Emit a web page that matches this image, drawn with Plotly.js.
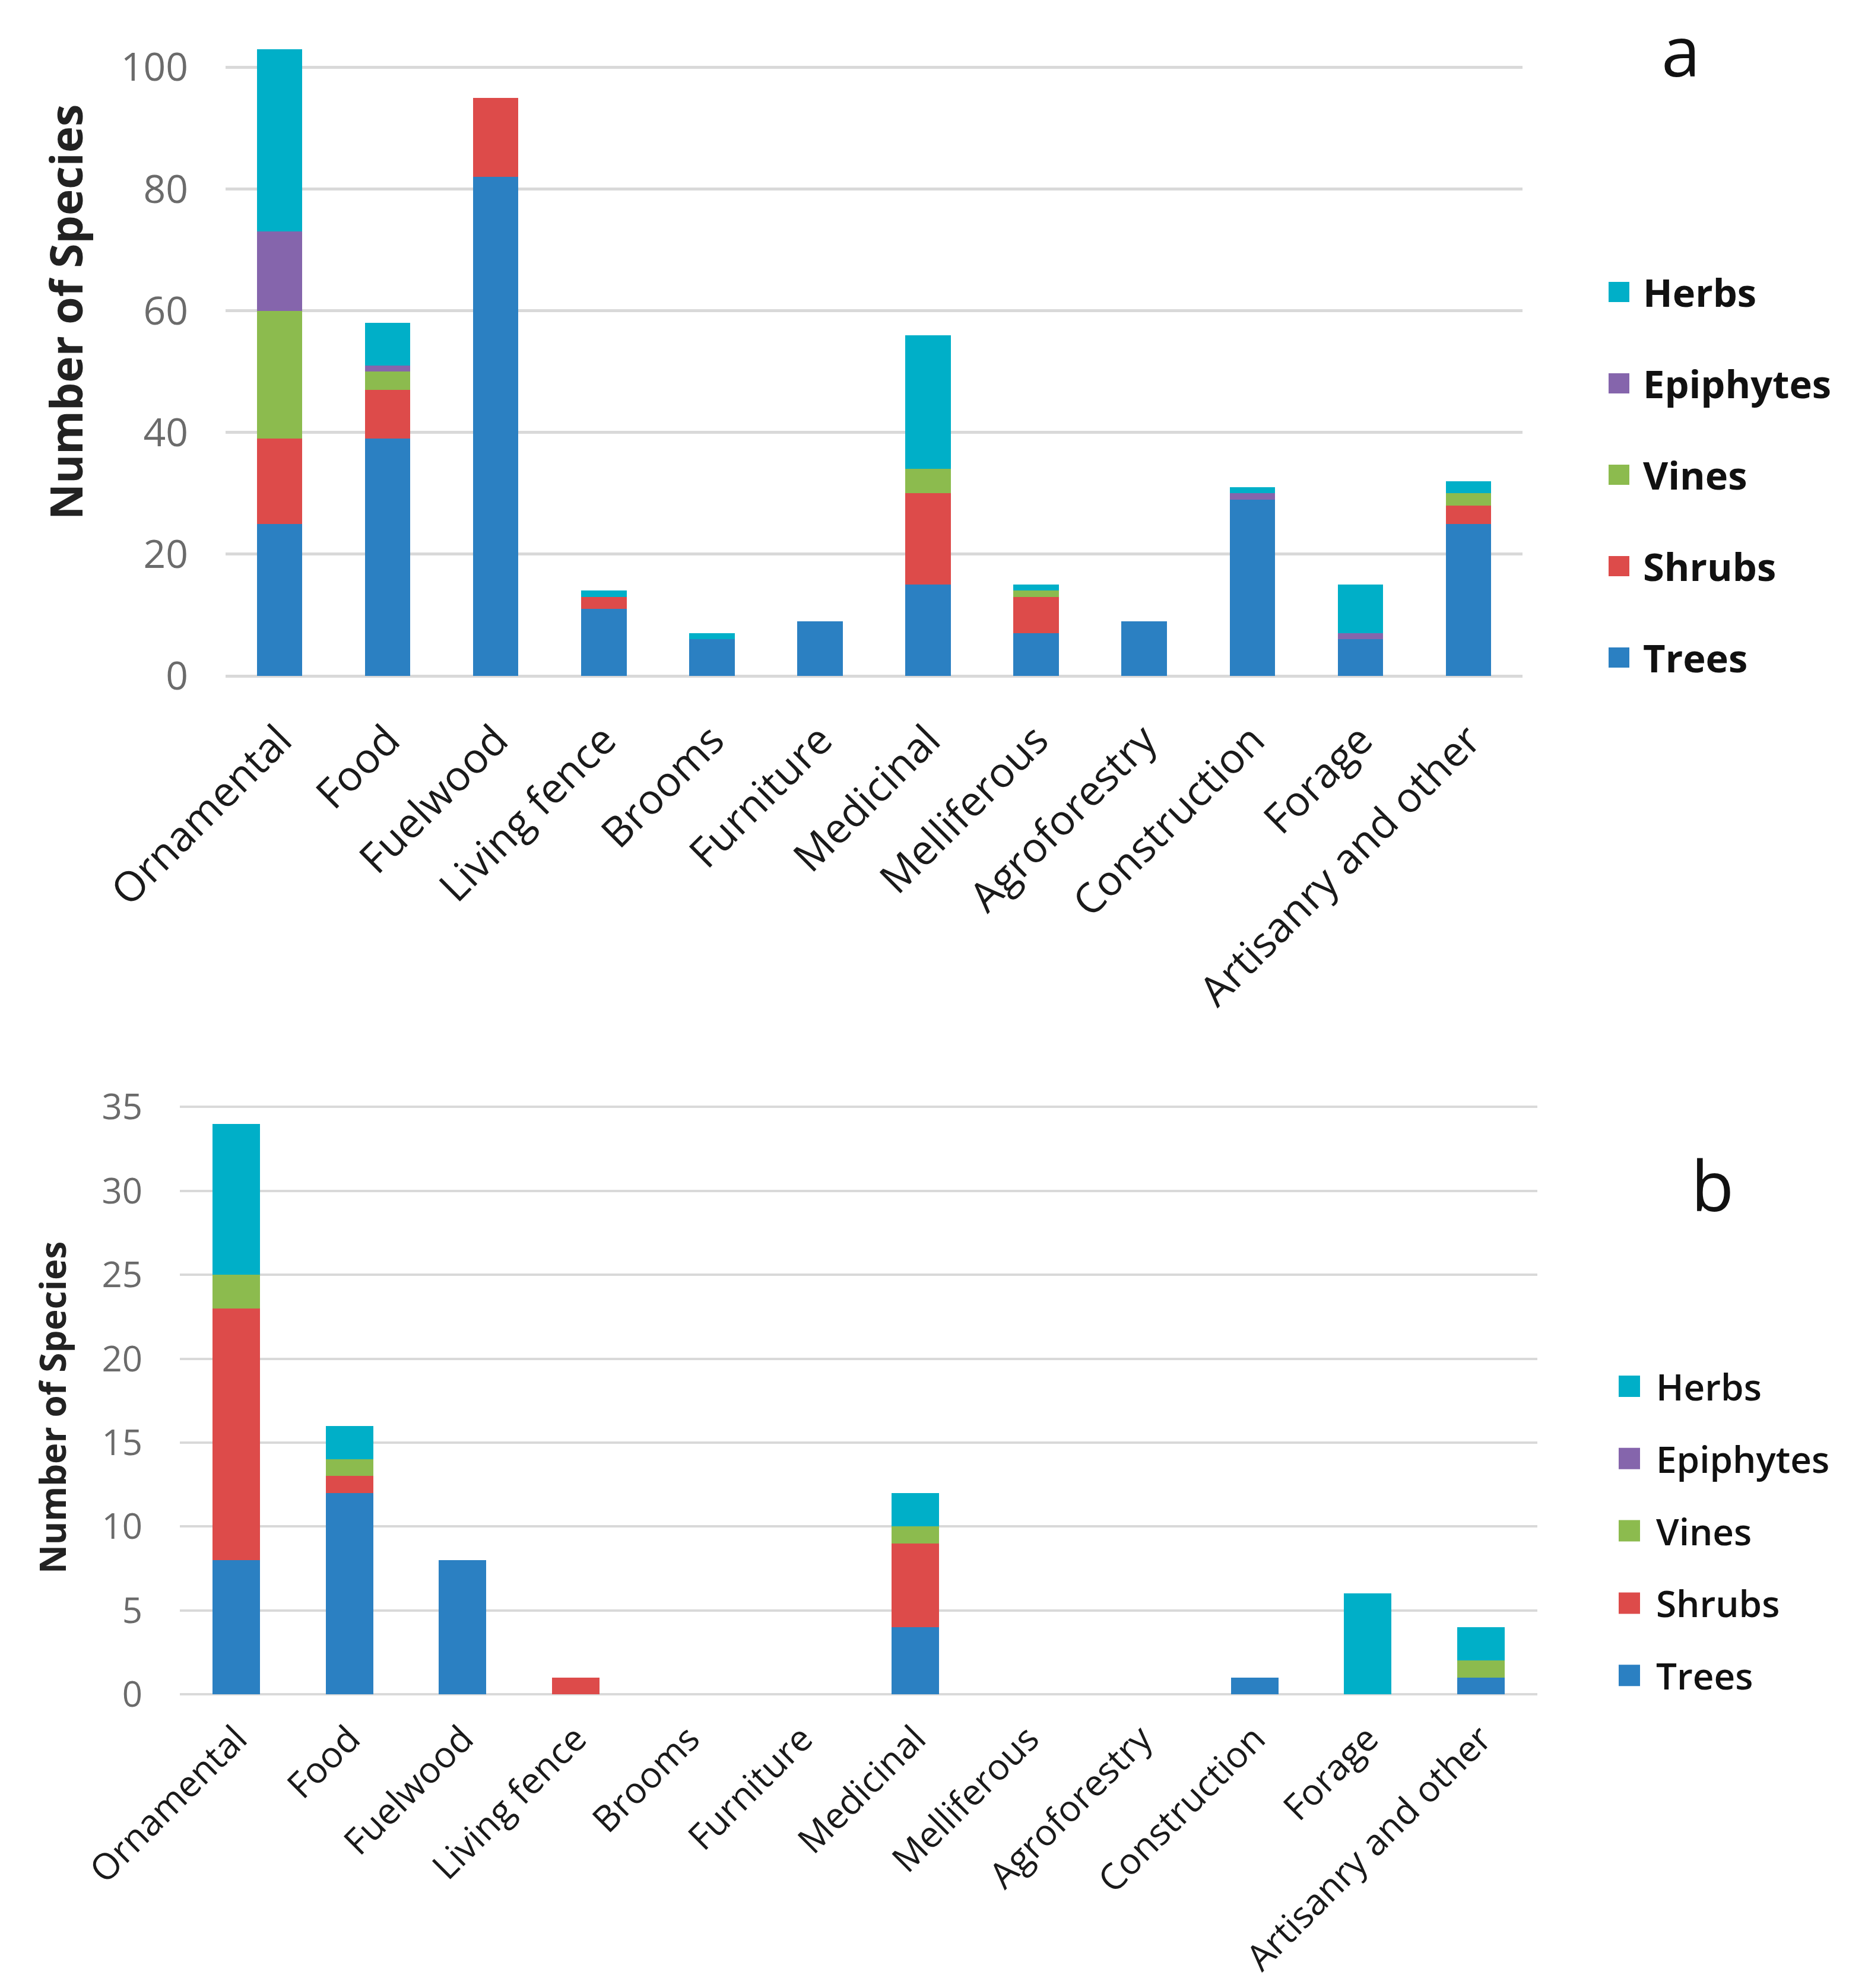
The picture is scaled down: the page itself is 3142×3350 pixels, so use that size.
<!DOCTYPE html>
<html>
<head>
<meta charset="utf-8">
<script src="https://cdn.plot.ly/plotly-3.0.1.min.js"></script>
<style>
  html, body { margin: 0; padding: 0; background: #ffffff; }
  #chart { width: 3142px; height: 3350px; }
</style>
</head>
<body>
<div id="chart"></div>
<script>
// ---------------- DATA ----------------
var categories = ['Ornamental', 'Food', 'Fuelwood', 'Living fence', 'Brooms', 'Furniture',
                  'Medicinal', 'Melliferous', 'Agroforestry', 'Construction', 'Forage', 'Artisanry and other'];

var seriesNames = ['Trees', 'Shrubs', 'Vines', 'Epiphytes', 'Herbs'];

// Panel a
var treesA     = [25, 39, 82, 11, 6, 9, 15, 7, 9, 29, 6, 25];
var shrubsA    = [14,  8, 13,  2, 0, 0, 15, 6, 0,  0, 0,  3];
var vinesA     = [21,  3,  0,  0, 0, 0,  4, 1, 0,  0, 0,  2];
var epiphytesA = [13,  1,  0,  0, 0, 0,  0, 0, 0,  1, 1,  0];
var herbsA     = [30,  7,  0,  1, 1, 0, 22, 1, 0,  1, 8,  2];

// Panel b
var treesB     = [ 8, 12, 8, 0, 0, 0, 4, 0, 0, 1, 0, 1];
var shrubsB    = [15,  1, 0, 1, 0, 0, 5, 0, 0, 0, 0, 0];
var vinesB     = [ 2,  1, 0, 0, 0, 0, 1, 0, 0, 0, 0, 1];
var epiphytesB = [ 0,  0, 0, 0, 0, 0, 0, 0, 0, 0, 0, 0];
var herbsB     = [ 9,  2, 0, 0, 0, 0, 2, 0, 0, 0, 6, 2];

var yTicksA = [0, 20, 40, 60, 80, 100];
var yTicksB = [0, 5, 10, 15, 20, 25, 30, 35];

// ---------------- STYLE ----------------
var colors = {
  Trees: '#2B80C2',
  Shrubs: '#DD4B4A',
  Vines: '#8CBB4E',
  Epiphytes: '#8565AC',
  Herbs: '#00AFC8'
};

var W = 3142, H = 3350;
function px(x) { return x / W; }
function py(y) { return 1 - y / H; }

var seriesA = [treesA, shrubsA, vinesA, epiphytesA, herbsA];
var seriesB = [treesB, shrubsB, vinesB, epiphytesB, herbsB];

var traces = [];
seriesNames.forEach(function (name, i) {
  traces.push({
    type: 'bar', name: name, x: categories, y: seriesA[i],
    xaxis: 'x', yaxis: 'y',
    marker: { color: colors[name], line: { width: 0 } },
    showlegend: false, hoverinfo: 'x+y+name'
  });
});
seriesNames.forEach(function (name, i) {
  traces.push({
    type: 'bar', name: name, x: categories, y: seriesB[i],
    xaxis: 'x2', yaxis: 'y2',
    marker: { color: colors[name], line: { width: 0 } },
    showlegend: false, hoverinfo: 'x+y+name'
  });
});

var tickFont = 'Open Sans, DejaVu Sans, sans-serif';

// Manual legends (large square swatches as in the reference)
var legendOrder = ['Herbs', 'Epiphytes', 'Vines', 'Shrubs', 'Trees'];
var shapes = [];
var annotations = [];

var legA = { sx0: 2710, sx1: 2745, tx: 2766, top: 492, step: 154, half: 17, size: 65, weight: 'bold' };
var legB = { sx0: 2727, sx1: 2763, tx: 2788, top: 2336, step: 121.8, half: 18, size: 62, weight: 600 };

[legA, legB].forEach(function (L) {
  legendOrder.forEach(function (name, k) {
    var cy = L.top + k * L.step;
    shapes.push({
      type: 'rect', xref: 'paper', yref: 'paper',
      x0: px(L.sx0), x1: px(L.sx1), y0: py(cy + L.half), y1: py(cy - L.half),
      fillcolor: colors[name], line: { width: 0 }
    });
    annotations.push({
      xref: 'paper', yref: 'paper', x: px(L.tx), y: py(cy),
      xanchor: 'left', yanchor: 'middle', showarrow: false,
      text: name,
      font: { family: tickFont, size: L.size, color: '#111111', weight: L.weight }
    });
  });
});

// Panel letters
annotations.push({
  xref: 'paper', yref: 'paper', x: px(2832), y: py(84), xanchor: 'center', yanchor: 'middle',
  showarrow: false, text: 'a', font: { family: tickFont, size: 118, color: '#111111' }
});
annotations.push({
  xref: 'paper', yref: 'paper', x: px(2885), y: py(1995), xanchor: 'center', yanchor: 'middle',
  showarrow: false, text: 'b', font: { family: tickFont, size: 118, color: '#111111' }
});

// Y axis titles (positioned as in the reference)
annotations.push({
  xref: 'paper', yref: 'paper', x: px(110), y: py(526), xanchor: 'center', yanchor: 'middle',
  showarrow: false, textangle: -90, text: 'Number of Species',
  font: { family: tickFont, size: 75, color: '#222222', weight: 'bold' }
});
annotations.push({
  xref: 'paper', yref: 'paper', x: px(88), y: py(2372), xanchor: 'center', yanchor: 'middle',
  showarrow: false, textangle: -90, text: 'Number of Species',
  font: { family: tickFont, size: 60, color: '#222222', weight: 'bold' }
});

var layout = {
  width: W, height: H,
  margin: { l: 0, r: 0, t: 0, b: 0 },
  paper_bgcolor: '#ffffff', plot_bgcolor: '#ffffff',
  barmode: 'stack',
  showlegend: false,
  font: { family: tickFont },
  xaxis: {
    domain: [px(380), px(2565)], anchor: 'y',
    type: 'category', tickangle: -45,
    tickfont: { family: tickFont, size: 70, color: '#1a1a1a' },
    showgrid: false, showline: false, ticks: '', ticklabelstandoff: 52,
    automargin: false
  },
  yaxis: {
    domain: [py(1139), py(62)], anchor: 'x',
    range: [0, 105], tickmode: 'array', tickvals: yTicksA, ticktext: yTicksA.map(String),
    tickfont: { family: tickFont, size: 66, color: '#6b6b6b' },
    showgrid: true, gridcolor: '#d9d9d9', gridwidth: 5,
    zeroline: true, zerolinecolor: '#d9d9d9', zerolinewidth: 5,
    showline: false, ticks: '', ticklabelstandoff: 62, automargin: false
  },
  xaxis2: {
    domain: [px(303), px(2590)], anchor: 'y2',
    type: 'category', tickangle: -45,
    tickfont: { family: tickFont, size: 61, color: '#1a1a1a' },
    showgrid: false, showline: false, ticks: '', ticklabelstandoff: 26,
    automargin: false
  },
  yaxis2: {
    domain: [py(2855), py(1857)], anchor: 'x2',
    range: [0, 35.3], tickmode: 'array', tickvals: yTicksB, ticktext: yTicksB.map(String),
    tickfont: { family: tickFont, size: 60, color: '#6b6b6b' },
    showgrid: true, gridcolor: '#d9d9d9', gridwidth: 4,
    zeroline: true, zerolinecolor: '#d9d9d9', zerolinewidth: 4,
    showline: false, ticks: '', ticklabelstandoff: 62, automargin: false
  },
  bargap: 0.58,
  shapes: shapes,
  annotations: annotations
};

Plotly.newPlot('chart', traces, layout, { staticPlot: true, displayModeBar: false });
</script>
</body>
</html>
